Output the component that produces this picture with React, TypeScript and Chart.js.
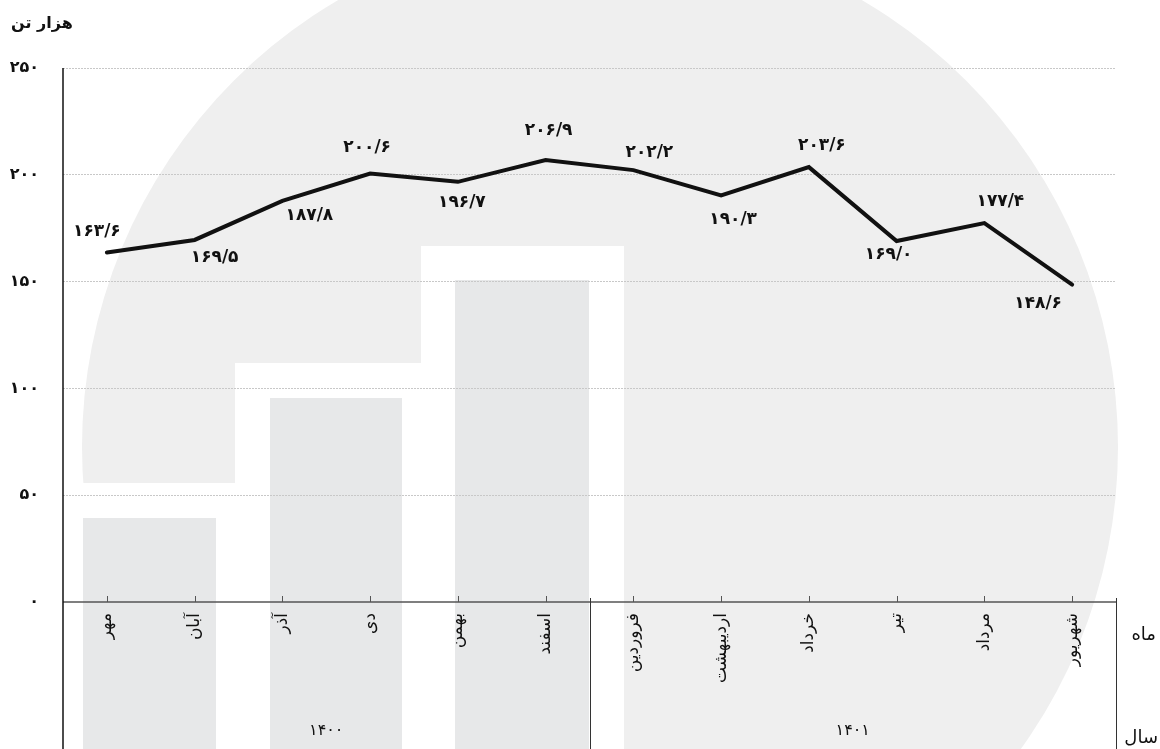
import React, { useEffect, useRef } from 'react';
import { Chart, registerables } from 'chart.js';

Chart.register(...registerables);

// ---- data ----
const months = ['مهر', 'آبان', 'آذر', 'دی', 'بهمن', 'اسفند', 'فروردین', 'اردیبهشت', 'خرداد', 'تیر', 'مرداد', 'شهریور'];
const production = [163.6, 169.5, 187.8, 200.6, 196.7, 206.9, 202.2, 190.3, 203.6, 169.0, 177.4, 148.6];
const years = ['۱۴۰۰', '۱۴۰۱'];
const monthsPerYear = 6;
const yMin = 0;
const yMax = 250;
const yStep = 50;
const unitLabel = 'هزار تن';
const monthAxisLabel = 'ماه';
const yearAxisLabel = 'سال';

// label placement (pixel offsets from each point)
const labelOffsets: [number, number][] = [
  [-10, -21], [20, 18], [27, 15], [-3, -26], [4, 21], [3, -29],
  [16, -18], [12, 24], [13, -22], [-8, 14], [16, -21], [-34, 19],
];

const FONT = "'DejaVu Sans', sans-serif";
const faDigits = '۰۱۲۳۴۵۶۷۸۹';
const toFa = (s: string) => s.replace(/\d/g, (d) => faDigits[+d]).replace('.', '/');

const decorPlugin = {
  id: 'decor',
  beforeDraw(chart: any) {
    const ctx = chart.ctx;
    const H = chart.height;
    ctx.save();
    // watermark logo
    ctx.fillStyle = '#efefef';
    ctx.beginPath();
    ctx.arc(600, 447, 518, 0, Math.PI * 2);
    ctx.fill();
    ctx.fillStyle = '#ffffff';
    ctx.fillRect(0, 483, 235, H - 483);
    ctx.fillRect(235, 363, 186, H - 363);
    ctx.fillRect(421, 246, 203, H - 246);
    ctx.fillStyle = '#e7e8e9';
    ctx.fillRect(83, 518, 133, H - 518);
    ctx.fillRect(270, 398, 132, H - 398);
    ctx.fillRect(455, 280, 134, H - 280);
    ctx.restore();
  },
  afterDatasetsDraw(chart: any) {
    const ctx = chart.ctx;
    const meta = chart.getDatasetMeta(0);
    ctx.save();
    ctx.font = `bold 17px ${FONT}`;
    ctx.fillStyle = '#111';
    ctx.textAlign = 'center';
    ctx.textBaseline = 'middle';
    meta.data.forEach((pt: any, i: number) => {
      const [dx, dy] = labelOffsets[i] || [0, -20];
      ctx.fillText(toFa(production[i].toFixed(1)), pt.x + dx, pt.y + dy);
    });
    ctx.restore();
  },
  afterDraw(chart: any) {
    const ctx = chart.ctx;
    const a = chart.chartArea;
    const xs = chart.scales.x;
    const H = chart.height;
    const W = chart.width;
    const line = (x1: number, y1: number, x2: number, y2: number) => {
      ctx.beginPath();
      ctx.moveTo(x1, y1);
      ctx.lineTo(x2, y2);
      ctx.stroke();
    };
    ctx.save();
    // x axis line
    ctx.strokeStyle = '#555';
    ctx.lineWidth = 1.5;
    line(a.left, a.bottom, a.right, a.bottom);
    // tick marks (upward)
    ctx.lineWidth = 1;
    months.forEach((_, i) => {
      const px = Math.round(xs.getPixelForValue(i)) + 0.5;
      line(px, a.bottom - 6, px, a.bottom);
    });
    // group separators
    ctx.strokeStyle = '#333';
    for (let g = 1; g <= years.length; g++) {
      const px = Math.round(xs.getPixelForValue(g * monthsPerYear - 0.5)) + 0.5;
      line(px, a.bottom - 4, px, H);
    }
    // y axis line
    ctx.strokeStyle = '#111';
    ctx.lineWidth = 1.5;
    line(a.left, a.top, a.left, H);
    // year labels
    ctx.fillStyle = '#111';
    ctx.textAlign = 'center';
    ctx.textBaseline = 'middle';
    ctx.font = `16px ${FONT}`;
    years.forEach((y, g) => {
      const c = xs.getPixelForValue(g * monthsPerYear + (monthsPerYear - 1) / 2);
      ctx.fillText(y, c, 731);
    });
    // axis titles
    ctx.font = `18px ${FONT}`;
    ctx.textAlign = 'right';
    ctx.fillText(monthAxisLabel, W - 4, 635);
    ctx.fillText(yearAxisLabel, W - 2, 738);
    ctx.font = `bold 16px ${FONT}`;
    ctx.textAlign = 'left';
    ctx.fillText(unitLabel, 11, 24);
    ctx.restore();
  },
};

export default function App() {
  const ref = useRef<HTMLCanvasElement | null>(null);

  useEffect(() => {
    document.body.style.margin = '0';
    if (!ref.current) return;
    const chart = new Chart(ref.current, {
      type: 'line',
      data: {
        labels: months,
        datasets: [
          {
            data: production,
            borderColor: '#111',
            borderWidth: 4,
            pointRadius: 0,
            tension: 0,
            borderCapStyle: 'round',
            borderJoinStyle: 'miter',
            fill: false,
          },
        ],
      },
      options: {
        animation: false,
        responsive: false,
        layout: { padding: { top: 68, right: 44, left: 0, bottom: 0 } },
        plugins: {
          legend: { display: false },
          tooltip: { enabled: false },
          title: { display: false },
        },
        scales: {
          x: {
            type: 'category',
            offset: true,
            grid: { display: false, drawTicks: false },
            border: { display: false },
            ticks: {
              autoSkip: false,
              maxRotation: 90,
              minRotation: 90,
              padding: 11,
              color: '#111',
              font: { family: FONT, size: 17 },
            },
            afterFit: (s: any) => {
              s.height = 147;
            },
          },
          y: {
            min: yMin,
            max: yMax,
            grid: {
              drawTicks: false,
              color: (c: any) => (c.tick && c.tick.value === 0 ? 'rgba(0,0,0,0)' : '#c8c8c8'),
              lineWidth: 1,
            },
            border: { display: false, dash: [2, 1] },
            ticks: {
              stepSize: yStep,
              padding: 24,
              color: '#111',
              font: { family: FONT, size: 16, weight: 'bold' },
              callback: (v: any) => toFa(String(v)),
            },
            afterFit: (s: any) => {
              s.width = 63;
            },
          },
        },
      },
      plugins: [decorPlugin],
    } as any);
    return () => chart.destroy();
  }, []);

  return (
    <div style={{ position: 'absolute', left: 0, top: 0, width: 1160, height: 749 }}>
      <canvas ref={ref} width={1160} height={749} />
    </div>
  );
}
